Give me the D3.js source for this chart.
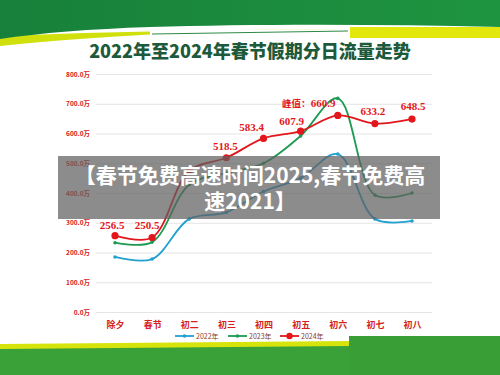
<!DOCTYPE html>
<html>
<head>
<meta charset="utf-8">
<style>
  body { margin: 0; background: #fff; }
  svg { display: block; }
</style>
</head>
<body>
<div id="chart"></div>
<script src="https://cdn.jsdelivr.net/npm/d3@7"></script>
<script>
// data
const days = ["除夕", "春节", "初二", "初三", "初四", "初五", "初六", "初七", "初八"];
const flow2022 = [185, 178, 313, 335, 405, 450, 531, 313, 306];
const flow2023 = [233, 235, 428, 467, 500, 592, 718, 393, 400];
const flow2024 = [256.5, 250.5, 475, 518.5, 583.4, 607.9, 660.9, 633.2, 648.5];
const yTicks = [0, 100, 200, 300, 400, 500, 600, 700, 800];
const seriesNames = ["2022年", "2023年", "2024年"];

const width = 500, height = 375;
const svg = d3.select("#chart").append("svg")
    .attr("width", width).attr("height", height);

// header decoration
const defs = svg.append("defs");
const topGrad = defs.append("linearGradient").attr("id", "topg");
topGrad.append("stop").attr("offset", "0%").attr("stop-color", "#17803a");
topGrad.append("stop").attr("offset", "100%").attr("stop-color", "#1f9440");

svg.append("path")
    .attr("d", "M0,46 C120,34 220,30 350,30 L350,38 L500,38 L500,30 C300,28 150,30 0,36 Z")
    .attr("fill", "#cfe00c");
svg.append("path")
    .attr("d", "M150,30 L350,29 L350,37 L150,37 Z")
    .attr("fill", "#ffffff");
svg.append("path")
    .attr("d", "M152,34 L348,31")
    .attr("stroke", "#2e8a45").attr("stroke-width", 1.2).attr("fill", "none");
svg.append("rect").attr("x", 350).attr("y", 27).attr("width", 150).attr("height", 11)
    .attr("fill", "#e2e80e");
svg.append("path")
    .attr("d", "M0,0 H500 V27 C380,24 250,24 150,27 C90,29 40,33 0,39 Z")
    .attr("fill", "url(#topg)");

// footer decoration
svg.append("path")
    .attr("d", "M0,344 L350,341 L350,375 L0,375 Z")
    .attr("fill", "#d6e40c");
svg.append("path")
    .attr("d", "M0,349 L350,346 L350,375 L0,375 Z")
    .attr("fill", "#3aa038");
svg.append("rect").attr("x", 349).attr("y", 336).attr("width", 151).attr("height", 39)
    .attr("fill", "#3a9e36");

// title
svg.append("text")
    .attr("x", 250).attr("y", 58)
    .attr("text-anchor", "middle")
    .attr("font-family", "'Noto Sans CJK SC', sans-serif")
    .attr("font-weight", "900")
    .attr("font-size", 18)
    .attr("fill", "#1d5a3c")
    .text("2022年至2024年春节假期分日流量走势");

// scales
const x = d3.scalePoint().domain(days).range([115, 412]);
const y = d3.scaleLinear().domain([0, 800]).range([312, 74]);

// y axis + grid
const yAxis = svg.append("g")
    .attr("transform", "translate(96,0)")
    .call(d3.axisLeft(y).tickValues(yTicks).tickSize(-336).tickPadding(6)
        .tickFormat(d => d3.format(".1f")(d) + "万"));
yAxis.select(".domain").remove();
yAxis.selectAll("line").attr("stroke", "#e4e4e4").attr("stroke-width", 1);
yAxis.selectAll("text")
    .attr("fill", "#d42020")
    .attr("font-size", 6.5)
    .attr("font-weight", "bold")
    .attr("font-family", "'Noto Sans CJK SC', sans-serif");

// x axis
const xAxis = svg.append("g")
    .attr("transform", "translate(0,312)")
    .call(d3.axisBottom(x).tickSize(0).tickPadding(10));
xAxis.select(".domain").remove();
xAxis.selectAll("text")
    .attr("fill", "#d42020")
    .attr("font-size", 9)
    .attr("font-weight", "bold")
    .attr("font-family", "'Noto Sans CJK SC', sans-serif");

// lines
const line = d3.line()
    .x((d, i) => x(days[i]))
    .y(d => y(d))
    .curve(d3.curveCatmullRom.alpha(0.5));

const series = [
    { values: flow2022, color: "#22a0d0", r: 1.8 },
    { values: flow2023, color: "#1c9a52", r: 1.8 },
    { values: flow2024, color: "#e3161b", r: 3.6 }
];

series.forEach(s => {
    svg.append("path")
        .datum(s.values)
        .attr("d", line)
        .attr("fill", "none")
        .attr("stroke", s.color)
        .attr("stroke-width", 1.8);
    svg.selectAll(null)
        .data(s.values)
        .join("circle")
        .attr("cx", (d, i) => x(days[i]))
        .attr("cy", d => y(d))
        .attr("r", s.r)
        .attr("fill", s.color);
});

// data labels for 2024
const labelShift = [[-3, -7], [-5, -8], null, [-1, -8], [-12, -7], [-9, -6], [-29, -8], [-2, -9], [1, -9]];
const labels = flow2024
    .map((v, i) => ({ v, i, day: days[i], shift: labelShift[i] }))
    .filter(d => d.shift);
const lbl = svg.selectAll(null)
    .data(labels)
    .join("text")
    .attr("x", d => x(d.day) + d.shift[0])
    .attr("y", d => y(d.v) + d.shift[1])
    .attr("text-anchor", "middle")
    .attr("font-family", "'Liberation Serif', 'DejaVu Serif', serif")
    .attr("font-weight", "bold")
    .attr("font-size", 11)
    .attr("fill", "#e3161b");
lbl.filter(d => d.i === 6).append("tspan")
    .attr("font-family", "'Noto Sans CJK SC', sans-serif")
    .attr("font-size", 9.5)
    .text("峰值：");
lbl.append("tspan").text(d => d3.format(".1f")(d.v));

// legend
const legendX = [175, 228, 280];
seriesNames.forEach((name, i) => {
    const g = svg.append("g").attr("transform", `translate(${legendX[i]},336)`);
    g.append("line").attr("x1", 0).attr("x2", 19)
        .attr("stroke", series[i].color).attr("stroke-width", 1.8);
    g.append("circle").attr("cx", 9.5).attr("r", i === 2 ? 3.2 : 1.8)
        .attr("fill", series[i].color);
    g.append("text").attr("x", 21).attr("y", 2.5)
        .attr("font-size", 7)
        .attr("font-family", "'Noto Sans CJK SC', sans-serif")
        .attr("fill", "#8a3a2c")
        .text(name);
});

// overlay banner
svg.append("rect")
    .attr("x", 58).attr("y", 156).attr("width", 382).attr("height", 63)
    .attr("fill", "rgba(95,95,95,0.72)");
const banner = svg.append("text")
    .attr("text-anchor", "middle")
    .attr("font-family", "'Noto Sans CJK SC', sans-serif")
    .attr("font-weight", "bold")
    .attr("font-size", 21)
    .attr("fill", "#ffffff");
banner.append("tspan").attr("x", 250).attr("y", 183).text("【春节免费高速时间2025,春节免费高");
banner.append("tspan").attr("x", 250).attr("y", 209).text("速2021】");
</script>
</body>
</html>
